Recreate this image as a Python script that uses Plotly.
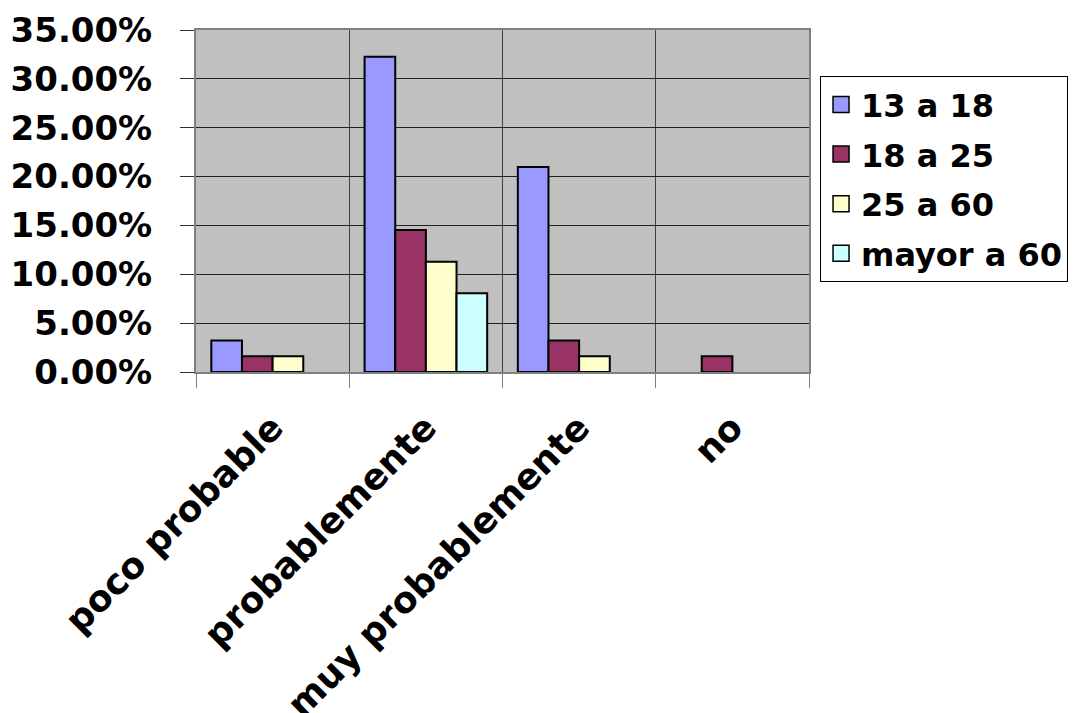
import plotly.graph_objects as go

# Survey answers by age group (share of all respondents)
categories = ["poco probable", "probablemente", "muy probablemente", "no"]
series_names = ["13 a 18", "18 a 25", "25 a 60", "mayor a 60"]
v_13_18 = [0.0323, 0.3226, 0.2097, 0.0]
v_18_25 = [0.0161, 0.1452, 0.0323, 0.0161]
v_25_60 = [0.0161, 0.1129, 0.0161, 0.0]
v_60_plus = [0.0, 0.0806, 0.0, 0.0]
y_ticks = [0, 0.05, 0.10, 0.15, 0.20, 0.25, 0.30, 0.35]

colors = ["#9999FF", "#993366", "#FFFFCC", "#CCFFFF"]
values = [v_13_18, v_18_25, v_25_60, v_60_plus]

FONT = "DejaVu Sans"

fig = go.Figure()
for name, vals, col in zip(series_names, values, colors):
    # empty cells get no outline so nothing is drawn for them
    outline = [2 if v > 0 else 0 for v in vals]
    fig.add_trace(go.Bar(
        x=categories, y=vals, name=name,
        marker=dict(color=col, line=dict(color="black", width=outline)),
        showlegend=False, legendgroup=name,
    ))
    # larger square swatch for the legend
    fig.add_trace(go.Scatter(
        x=[None], y=[None], mode="markers", name=name, legendgroup=name,
        marker=dict(symbol="square", size=16, color=col,
                    line=dict(color="black", width=1.5)),
    ))

fig.update_layout(
    width=1075, height=713,
    margin=dict(l=196, r=266, t=30, b=341, autoexpand=False),
    paper_bgcolor="white",
    plot_bgcolor="#C0C0C0",
    barmode="group",
    bargap=0.2,
    bargroupgap=0,
    font=dict(family=FONT, color="black"),
    legend=dict(
        x=1.018, y=0.865, xanchor="left", yanchor="top",
        bgcolor="white", bordercolor="black", borderwidth=1,
        font=dict(family=FONT, size=32, color="black", weight="bold"),
        tracegroupgap=5, itemwidth=30,
    ),
    showlegend=True,
)

fig.update_xaxes(
    type="category",
    automargin=False,
    tickson="boundaries",
    ticks="outside", ticklen=14, tickcolor="#808080", tickwidth=1,
    showgrid=True, gridcolor="#404040", gridwidth=1,
    showline=True, linecolor="#808080", linewidth=2, mirror=True,
    tickangle=-45,
    ticklabelstandoff=18,
    tickfont=dict(family=FONT, size=36, color="black", weight="bold"),
)

fig.update_yaxes(
    range=[0, 0.35],
    automargin=False,
    tickvals=y_ticks,
    tickformat=".2%",
    ticks="outside", ticklen=14, tickcolor="#303030",
    showgrid=True, gridcolor="#202020", gridwidth=1,
    showline=True, linecolor="#808080", linewidth=2, mirror=True,
    zeroline=False,
    ticklabelstandoff=21,
    tickfont=dict(family=FONT, size=34, color="black", weight="bold"),
)

fig.write_html("out.html")
